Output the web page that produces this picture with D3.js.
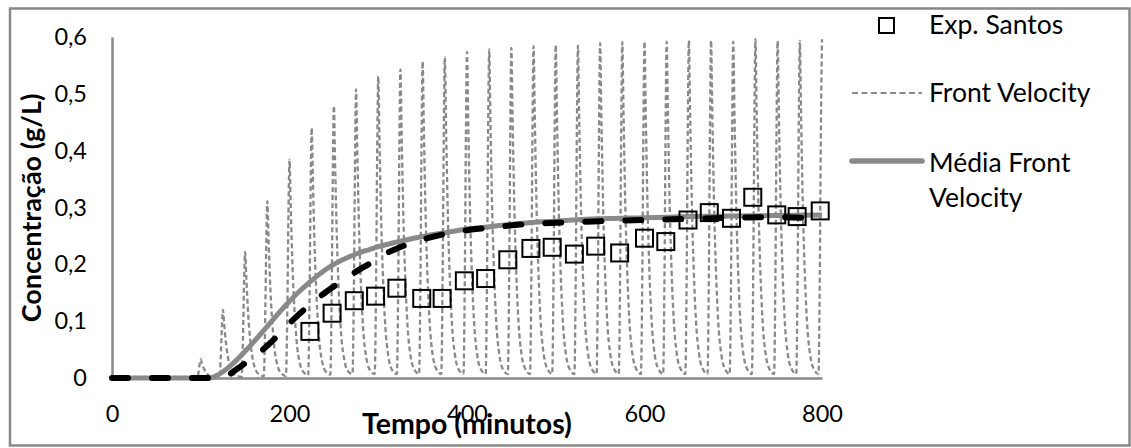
<!DOCTYPE html>
<html>
<head>
<meta charset="utf-8">
<script src="https://cdn.jsdelivr.net/npm/d3@7"></script>
<style>
  html, body { margin: 0; padding: 0; background: #fff; }
  svg { display: block; font-family: Lato, "Open Sans", sans-serif; }
</style>
</head>
<body>
<svg id="chart" width="1131" height="448"></svg>
<script>
// ---------- DATA ----------
const xTicks = [0, 200, 400, 600, 800];
const yTicks = [0, 0.1, 0.2, 0.3, 0.4, 0.5, 0.6];

const legendLabels = ["Exp. Santos", "Front Velocity", "Média Front Velocity"];

// Exp. Santos (squares)
const expTime = [223, 248, 273, 297, 321, 349, 372, 397, 421, 446, 472, 496, 521, 545, 572, 600, 624, 649, 673, 698, 722, 749, 772, 798];
const expConc = [0.082, 0.114, 0.136, 0.144, 0.158, 0.140, 0.140, 0.171, 0.175, 0.208, 0.228, 0.230, 0.218, 0.232, 0.220, 0.246, 0.240, 0.278, 0.291, 0.281, 0.318, 0.287, 0.284, 0.294];

// Front Velocity (oscillating dashed gray line), one row per cycle
const fvTime = [
  0,
  96, 97.5, 98.8, 100, 101.3, 103.5, 105.5, 108, 111.5, 116,
  121, 122.5, 123.8, 125, 126.3, 128.5, 130.5, 133, 136.5, 141,
  146, 147.5, 148.8, 150, 151.3, 153.5, 155.5, 158, 161.5, 166,
  171, 172.5, 173.8, 175, 176.3, 178.5, 180.5, 183, 186.5, 191,
  196, 197.5, 198.8, 200, 201.3, 203.5, 205.5, 208, 211.5, 216,
  221, 222.5, 223.8, 225, 226.3, 228.5, 230.5, 233, 236.5, 241,
  246, 247.5, 248.8, 250, 251.3, 253.5, 255.5, 258, 261.5, 266,
  271, 272.5, 273.8, 275, 276.3, 278.5, 280.5, 283, 286.5, 291,
  296, 297.5, 298.8, 300, 301.3, 303.5, 305.5, 308, 311.5, 316,
  321, 322.5, 323.8, 325, 326.3, 328.5, 330.5, 333, 336.5, 341,
  346, 347.5, 348.8, 350, 351.3, 353.5, 355.5, 358, 361.5, 366,
  371, 372.5, 373.8, 375, 376.3, 378.5, 380.5, 383, 386.5, 391,
  396, 397.5, 398.8, 400, 401.3, 403.5, 405.5, 408, 411.5, 416,
  421, 422.5, 423.8, 425, 426.3, 428.5, 430.5, 433, 436.5, 441,
  446, 447.5, 448.8, 450, 451.3, 453.5, 455.5, 458, 461.5, 466,
  471, 472.5, 473.8, 475, 476.3, 478.5, 480.5, 483, 486.5, 491,
  496, 497.5, 498.8, 500, 501.3, 503.5, 505.5, 508, 511.5, 516,
  521, 522.5, 523.8, 525, 526.3, 528.5, 530.5, 533, 536.5, 541,
  546, 547.5, 548.8, 550, 551.3, 553.5, 555.5, 558, 561.5, 566,
  571, 572.5, 573.8, 575, 576.3, 578.5, 580.5, 583, 586.5, 591,
  596, 597.5, 598.8, 600, 601.3, 603.5, 605.5, 608, 611.5, 616,
  621, 622.5, 623.8, 625, 626.3, 628.5, 630.5, 633, 636.5, 641,
  646, 647.5, 648.8, 650, 651.3, 653.5, 655.5, 658, 661.5, 666,
  671, 672.5, 673.8, 675, 676.3, 678.5, 680.5, 683, 686.5, 691,
  696, 697.5, 698.8, 700, 701.3, 703.5, 705.5, 708, 711.5, 716,
  721, 722.5, 723.8, 725, 726.3, 728.5, 730.5, 733, 736.5, 741,
  746, 747.5, 748.8, 750, 751.3, 753.5, 755.5, 758, 761.5, 766,
  771, 772.5, 773.8, 775, 776.3, 778.5, 780.5, 783, 786.5, 791,
  796, 797.5, 798.8, 800
];
const fvConc = [
  0,
  0.000, 0.010, 0.025, 0.033, 0.026, 0.017, 0.011, 0.006, 0.002, 0.001,
  0.001, 0.036, 0.090, 0.120, 0.096, 0.060, 0.038, 0.020, 0.008, 0.003,
  0.002, 0.067, 0.167, 0.222, 0.178, 0.111, 0.071, 0.038, 0.016, 0.006,
  0.003, 0.093, 0.233, 0.311, 0.249, 0.156, 0.100, 0.053, 0.022, 0.008,
  0.004, 0.115, 0.288, 0.384, 0.307, 0.192, 0.123, 0.065, 0.027, 0.010,
  0.005, 0.132, 0.330, 0.440, 0.352, 0.220, 0.141, 0.075, 0.031, 0.011,
  0.006, 0.144, 0.359, 0.479, 0.383, 0.240, 0.153, 0.081, 0.034, 0.012,
  0.007, 0.152, 0.381, 0.508, 0.406, 0.254, 0.163, 0.086, 0.036, 0.013,
  0.007, 0.159, 0.398, 0.531, 0.425, 0.266, 0.170, 0.090, 0.037, 0.013,
  0.007, 0.163, 0.407, 0.543, 0.434, 0.272, 0.174, 0.092, 0.038, 0.014,
  0.007, 0.167, 0.418, 0.557, 0.446, 0.279, 0.178, 0.095, 0.039, 0.014,
  0.007, 0.170, 0.424, 0.565, 0.452, 0.283, 0.181, 0.096, 0.040, 0.014,
  0.007, 0.172, 0.431, 0.574, 0.459, 0.287, 0.184, 0.098, 0.040, 0.014,
  0.007, 0.173, 0.434, 0.578, 0.462, 0.289, 0.185, 0.098, 0.040, 0.014,
  0.007, 0.174, 0.436, 0.581, 0.465, 0.291, 0.186, 0.099, 0.041, 0.015,
  0.007, 0.175, 0.438, 0.584, 0.467, 0.292, 0.187, 0.099, 0.041, 0.015,
  0.007, 0.176, 0.440, 0.586, 0.469, 0.293, 0.188, 0.100, 0.041, 0.015,
  0.007, 0.176, 0.439, 0.585, 0.468, 0.293, 0.187, 0.099, 0.041, 0.015,
  0.007, 0.177, 0.442, 0.589, 0.471, 0.295, 0.188, 0.100, 0.041, 0.015,
  0.007, 0.177, 0.443, 0.591, 0.473, 0.296, 0.189, 0.100, 0.041, 0.015,
  0.007, 0.178, 0.444, 0.592, 0.474, 0.296, 0.189, 0.101, 0.041, 0.015,
  0.007, 0.178, 0.444, 0.592, 0.474, 0.296, 0.189, 0.101, 0.041, 0.015,
  0.007, 0.178, 0.446, 0.594, 0.475, 0.297, 0.190, 0.101, 0.042, 0.015,
  0.007, 0.178, 0.446, 0.594, 0.475, 0.297, 0.190, 0.101, 0.042, 0.015,
  0.007, 0.178, 0.444, 0.592, 0.474, 0.296, 0.189, 0.101, 0.041, 0.015,
  0.007, 0.179, 0.447, 0.596, 0.477, 0.298, 0.191, 0.101, 0.042, 0.015,
  0.007, 0.178, 0.445, 0.593, 0.474, 0.297, 0.190, 0.101, 0.042, 0.015,
  0.007, 0.178, 0.445, 0.593, 0.474, 0.297, 0.190, 0.101, 0.042, 0.015,
  0.007, 0.179, 0.447, 0.596
];

// Média Front Velocity (thick solid gray)
const meanTime = [0, 110, 120, 130, 140, 150, 160, 170, 180, 190, 200, 210, 220, 230, 240, 250, 260, 270, 280, 290, 300, 320, 340, 360, 380, 400, 430, 460, 500, 550, 600, 650, 700, 750, 800];
const meanConc = [0, 0, 0.006, 0.017, 0.031, 0.047, 0.064, 0.082, 0.100, 0.118, 0.135, 0.151, 0.165, 0.178, 0.190, 0.200, 0.208, 0.215, 0.221, 0.226, 0.231, 0.239, 0.246, 0.252, 0.257, 0.262, 0.267, 0.272, 0.276, 0.280, 0.282, 0.284, 0.285, 0.286, 0.287];

// Black dashed curve (no legend entry)
const blackTime = [0, 120, 130, 140, 150, 160, 170, 180, 190, 200, 210, 220, 230, 240, 250, 260, 270, 280, 290, 300, 320, 340, 360, 380, 400, 430, 460, 500, 550, 600, 650, 700, 750, 780];
const blackConc = [0, 0, 0.004, 0.015, 0.026, 0.037, 0.050, 0.064, 0.080, 0.096, 0.111, 0.125, 0.138, 0.150, 0.161, 0.172, 0.182, 0.192, 0.201, 0.212, 0.227, 0.239, 0.248, 0.255, 0.260, 0.265, 0.270, 0.273, 0.276, 0.278, 0.280, 0.282, 0.283, 0.282];

// ---------- DRAWING ----------
const svg = d3.select("#chart");
const gray = "#898989";

const x = d3.scaleLinear().domain([0, 800]).range([112, 822]);
const y = d3.scaleLinear().domain([0, 0.6]).range([378, 37]);

// outer border
svg.append("rect")
  .attr("x", 10).attr("y", 8.5).attr("width", 1119.5).attr("height", 437)
  .attr("fill", "none").attr("stroke", gray).attr("stroke-width", 2.5);

const fmt = d => d === 0 ? "0" : d3.format(".1f")(d).replace(".", ",");

// axes
const xAxis = svg.append("g").attr("transform", `translate(0,${y(0)})`)
  .call(d3.axisBottom(x).tickValues(xTicks).tickSize(0).tickPadding(27).tickFormat(d3.format("d")));
const yAxis = svg.append("g").attr("transform", `translate(${x(0)},0)`)
  .call(d3.axisLeft(y).tickValues(yTicks).tickSize(0).tickPadding(25).tickFormat(fmt));
[xAxis, yAxis].forEach(g => {
  g.select(".domain").attr("stroke", gray).attr("stroke-width", 2.5);
  g.selectAll("text").attr("font-family", "Lato").attr("font-size", 23.5).attr("fill", "#000");
});

const pts = (xs, ys) => xs.map((t, i) => [t, ys[i]]);
const line = d3.line().x(d => x(d[0])).y(d => y(d[1]));

// Front Velocity
svg.append("path")
  .datum(pts(fvTime, fvConc))
  .attr("d", line.curve(d3.curveMonotoneX))
  .attr("fill", "none").attr("stroke", gray).attr("stroke-width", 2.3)
  .attr("stroke-dasharray", "5,3");

// Média Front Velocity
svg.append("path")
  .datum(pts(meanTime, meanConc))
  .attr("d", line.curve(d3.curveMonotoneX))
  .attr("fill", "none").attr("stroke", gray).attr("stroke-width", 5);

// black dashed
svg.append("path")
  .datum(pts(blackTime, blackConc))
  .attr("d", line.curve(d3.curveMonotoneX))
  .attr("fill", "none").attr("stroke", "#000").attr("stroke-width", 6)
  .attr("stroke-linecap", "round").attr("stroke-dasharray", "16,24");

// squares
const sq = 17;
svg.append("g").selectAll("rect")
  .data(pts(expTime, expConc))
  .join("rect")
  .attr("x", d => x(d[0]) - sq / 2).attr("y", d => y(d[1]) - sq / 2)
  .attr("width", sq).attr("height", sq)
  .attr("fill", "none").attr("stroke", "#000").attr("stroke-width", 2);

// axis titles
svg.append("text")
  .attr("x", x(400)).attr("y", 434)
  .attr("text-anchor", "middle").attr("font-family", "Lato").attr("font-weight", "bold").attr("font-size", 28.5)
  .text("Tempo (minutos)");
svg.append("text")
  .attr("transform", "translate(41,208) rotate(-90)")
  .attr("text-anchor", "middle").attr("font-family", "Lato").attr("font-weight", "bold").attr("font-size", 27)
  .text("Concentração (g/L)");

// legend
const lg = svg.append("g").attr("font-family", "Lato").attr("font-size", 26.5);
lg.append("rect").attr("x", 879).attr("y", 18).attr("width", 15).attr("height", 15)
  .attr("fill", "none").attr("stroke", "#000").attr("stroke-width", 2);
lg.append("text").attr("x", 929).attr("y", 34).text(legendLabels[0]);

lg.append("line").attr("x1", 852).attr("x2", 922).attr("y1", 93).attr("y2", 93)
  .attr("stroke", gray).attr("stroke-width", 2.2).attr("stroke-dasharray", "6,3.5");
lg.append("text").attr("x", 929).attr("y", 102).text(legendLabels[1]);

lg.append("line").attr("x1", 852).attr("x2", 922).attr("y1", 161).attr("y2", 161)
  .attr("stroke", gray).attr("stroke-width", 5.5).attr("stroke-linecap", "round");
const parts = legendLabels[2].split(" ");
lg.append("text").attr("x", 929).attr("y", 172).text(parts[0] + " " + parts[1]);
lg.append("text").attr("x", 929).attr("y", 207).text(parts.slice(2).join(" "));
</script>
</body>
</html>
